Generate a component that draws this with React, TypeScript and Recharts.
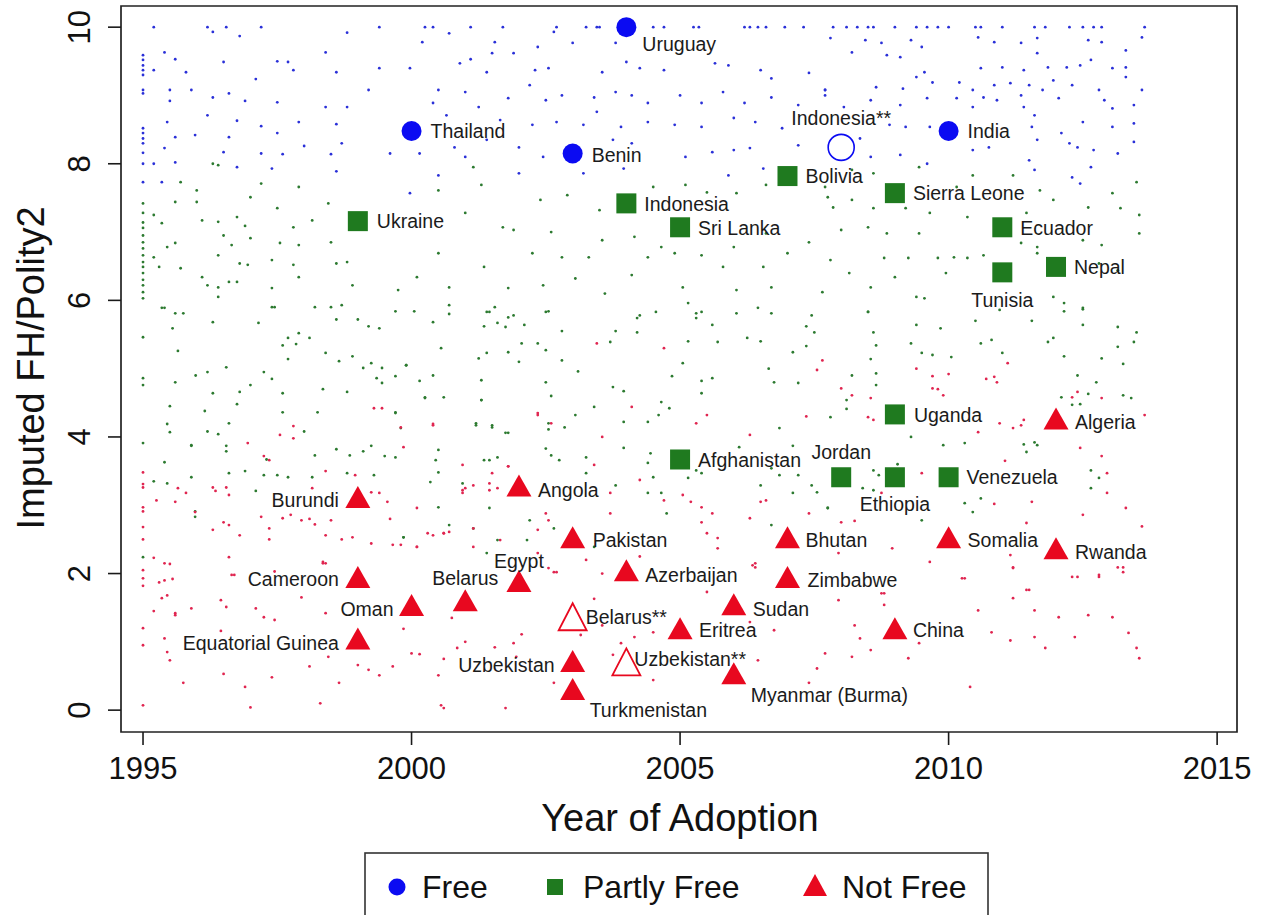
import { ScatterChart, Scatter, XAxis, YAxis, ReferenceArea } from "recharts";

const FONT = '"Liberation Sans", Arial, Helvetica, sans-serif';
const BLUE = "#0b0bf2";
const GREEN = "#1f7a1f";
const RED = "#e8081f";
const DOT_BLUE = "#2a30d8";
const DOT_GREEN = "#2c7a30";
const DOT_RED = "#e02550";

const YEAR_TICKS = [1995, 2000, 2005, 2010, 2015];
const SCORE_TICKS = [0, 2, 4, 6, 8, 10];

type Country = { name: string; year: number; score: number; hollow?: boolean };

const FREE: Country[] = [
  { name: "Uruguay", year: 2004, score: 10.0 },
  { name: "Thailand", year: 2000, score: 8.48 },
  { name: "Benin", year: 2003, score: 8.15 },
  { name: "Indonesia**", year: 2008, score: 8.24, hollow: true },
  { name: "India", year: 2010, score: 8.48 },
];

const PARTLY_FREE: Country[] = [
  { name: "Ukraine", year: 1999, score: 7.16 },
  { name: "Indonesia", year: 2004, score: 7.42 },
  { name: "Sri Lanka", year: 2005, score: 7.07 },
  { name: "Bolivia", year: 2007, score: 7.82 },
  { name: "Sierra Leone", year: 2009, score: 7.57 },
  { name: "Ecuador", year: 2011, score: 7.07 },
  { name: "Tunisia", year: 2011, score: 6.41 },
  { name: "Nepal", year: 2012, score: 6.49 },
  { name: "Uganda", year: 2009, score: 4.33 },
  { name: "Afghanistan", year: 2005, score: 3.67 },
  { name: "Jordan", year: 2008, score: 3.41 },
  { name: "Ethiopia", year: 2009, score: 3.41 },
  { name: "Venezuela", year: 2010, score: 3.41 },
];

const NOT_FREE: Country[] = [
  { name: "Algeria", year: 2012, score: 4.27 },
  { name: "Burundi", year: 1999, score: 3.12 },
  { name: "Angola", year: 2002, score: 3.29 },
  { name: "Pakistan", year: 2003, score: 2.53 },
  { name: "Bhutan", year: 2007, score: 2.53 },
  { name: "Somalia", year: 2010, score: 2.53 },
  { name: "Rwanda", year: 2012, score: 2.37 },
  { name: "Cameroon", year: 1999, score: 1.95 },
  { name: "Egypt", year: 2002, score: 1.89 },
  { name: "Azerbaijan", year: 2004, score: 2.05 },
  { name: "Zimbabwe", year: 2007, score: 1.95 },
  { name: "Oman", year: 2000, score: 1.54 },
  { name: "Belarus", year: 2001, score: 1.61 },
  { name: "Sudan", year: 2006, score: 1.55 },
  { name: "Belarus**", year: 2003, score: 1.36, hollow: true },
  { name: "Eritrea", year: 2005, score: 1.2 },
  { name: "China", year: 2009, score: 1.2 },
  { name: "Equatorial Guinea", year: 1999, score: 1.05 },
  { name: "Uzbekistan", year: 2003, score: 0.72 },
  { name: "Uzbekistan**", year: 2004, score: 0.7, hollow: true },
  { name: "Myanmar (Burma)", year: 2006, score: 0.54 },
  { name: "Turkmenistan", year: 2003, score: 0.31 },
];

// all country-years in the background, [year, score]
const BG_FREE: number[][] = [
  [1995, 9.59], [1995, 9.52], [1995, 9.44], [1995, 9.37], [1995, 9.3], [1995, 9.08], [1995, 9.03],
  [1995, 8.52], [1995, 8.45], [1995, 8.37], [1995, 8.3], [1995, 8.16], [1995, 8.0], [1995, 7.73],
  [1995.2, 10], [1996.2, 10], [1996.55, 10], [1997.2, 10], [1999.4, 10],
  [1996.3, 9.93], [1996.8, 9.87], [1995.4, 9.63], [1995.6, 9.53], [1996.5, 9.49], [1997.5, 9.5],
  [1997.7, 9.49], [1998.4, 9.63], [1998.8, 9.92], [1999.4, 9.4], [1995.2, 9.37], [1995.8, 9.34],
  [1997.8, 9.37], [1998.6, 9.34], [1997.1, 9.24], [1995.5, 9.08], [1995.9, 9.08], [1996.6, 9.03],
  [1999.2, 9.08], [1996.3, 8.97], [1995.5, 8.92], [1996.9, 8.92], [1997.5, 8.9], [1998.4, 8.83],
  [1998.8, 8.83], [1996.2, 8.71], [1996.75, 8.63], [1995.45, 8.61], [1997.2, 8.55], [1997.9, 8.61],
  [1998.6, 8.58], [1995.6, 8.39], [1995.97, 8.42], [1996.6, 8.39], [1997.5, 8.45], [1998.0, 8.26],
  [1998.7, 8.3], [1995.4, 8.23], [1996.5, 8.17], [1997.2, 8.15], [1997.6, 8.14], [1998.5, 8.14],
  [1999.6, 8.15], [1995.2, 8.0], [1995.6, 8.02], [1996.75, 7.95], [1997.4, 7.93], [1998.6, 7.89],
  [1995.35, 7.73],
  [2000.25, 10], [2000.4, 10], [2001.1, 10], [2001.7, 10], [2002.7, 10], [2003.25, 10], [2003.45, 10],
  [2003.5, 10], [2004.5, 10], [2004.7, 10], [2005.25, 10], [2005.35, 10], [2006.2, 10], [2006.3, 10],
  [2006.45, 10], [2006.6, 10], [2006.95, 10], [2007.3, 10], [2007.85, 10],
  [2000.7, 9.91], [2001.55, 9.78], [2000.2, 9.78], [2002.65, 9.93], [2003.0, 9.77], [2003.8, 9.77],
  [2002.35, 9.71], [2000.9, 9.47], [2001.1, 9.53], [2001.5, 9.62], [2001.9, 9.62], [2002.3, 9.37],
  [2002.55, 9.4], [2003.55, 9.34], [2004.0, 9.49], [2004.25, 9.4], [2004.7, 9.37], [2005.65, 9.47],
  [2005.9, 9.44], [2006.5, 9.37], [2006.7, 9.25], [2007.4, 9.33], [2007.7, 9.0], [1999.97, 9.4],
  [2000.5, 9.08], [2001.0, 9.05], [2001.4, 9.34], [2001.8, 8.96], [2002.2, 9.15], [2002.5, 8.93],
  [2002.8, 9.0], [2003.4, 8.97], [2003.8, 9.05], [2004.1, 9.0], [2004.4, 8.89], [2005.0, 9.0],
  [2005.4, 8.89], [2005.8, 9.05], [2006.2, 8.89], [2006.7, 8.97], [2007.2, 8.86], [2007.7, 9.08],
  [2000.4, 8.89], [2001.25, 8.83], [2000.65, 8.71], [2001.65, 8.64], [2002.25, 8.57], [2002.7, 8.61],
  [2003.2, 8.57], [2003.45, 8.76], [2003.9, 8.54], [2004.4, 8.61], [2004.9, 8.57], [2005.4, 8.54],
  [2006.0, 8.67], [2006.4, 8.61], [2006.9, 8.52], [2001.4, 8.35], [2002.0, 8.24], [2002.45, 8.1],
  [2003.75, 8.35], [2004.1, 8.3], [2005.1, 8.1], [2005.6, 8.17], [2006.0, 8.2], [2006.3, 8.23],
  [2007.2, 8.27], [2000.8, 8.24], [2000.15, 8.15], [2001.0, 8.1], [2000.5, 7.83], [2002.0, 7.86],
  [2003.2, 7.86], [2003.95, 7.93], [2005.9, 7.83], [2006.55, 7.93], [1999.97, 7.57],
  [2008.1, 10], [2008.3, 10], [2008.5, 10], [2008.6, 10], [2009.0, 10], [2009.4, 10], [2009.6, 10],
  [2009.8, 10], [2010.0, 10], [2010.5, 10], [2010.6, 10], [2011.0, 10], [2011.6, 10], [2011.8, 10],
  [2012.25, 10], [2012.5, 10], [2012.7, 10], [2012.85, 10], [2013.65, 10],
  [2007.8, 9.84], [2008.45, 9.81], [2008.75, 9.77], [2009.3, 9.81], [2009.5, 9.71], [2010.55, 9.85],
  [2010.85, 9.78], [2011.35, 9.77], [2011.65, 9.84], [2012.6, 9.81], [2012.85, 9.78], [2013.6, 9.85],
  [2008.2, 9.63], [2008.85, 9.59], [2009.1, 9.56], [2011.65, 9.62], [2013.3, 9.66], [2012.65, 9.52],
  [2010.6, 9.4], [2011.0, 9.41], [2011.4, 9.37], [2011.85, 9.41], [2012.2, 9.41], [2012.45, 9.44],
  [2013.05, 9.4], [2013.3, 9.41], [2009.4, 9.27], [2009.55, 9.34], [2010.2, 9.19], [2010.85, 9.15],
  [2011.15, 9.18], [2011.5, 9.15], [2011.95, 9.22], [2012.3, 9.15], [2013.3, 9.27], [2007.7, 9.08],
  [2008.65, 9.12], [2009.15, 9.1], [2009.7, 9.19], [2010.45, 9.08], [2011.35, 9.0], [2011.75, 9.08],
  [2012.8, 9.08], [2013.6, 9.08], [2008.55, 8.93], [2009.6, 8.96], [2010.15, 8.96], [2010.65, 8.97],
  [2010.9, 8.93], [2012.05, 8.96], [2012.9, 8.93], [2013.05, 8.81], [2013.45, 8.86], [2008.05, 8.83],
  [2009.1, 8.86], [2010.45, 8.83], [2011.4, 8.83], [2011.6, 8.71], [2008.9, 8.57], [2009.2, 8.54],
  [2009.65, 8.54], [2011.55, 8.54], [2012.1, 8.45], [2012.5, 8.61], [2013.05, 8.54], [2013.45, 8.59],
  [2008.35, 8.37], [2010.45, 8.2], [2010.75, 8.24], [2011.65, 8.35], [2012.25, 8.3], [2012.4, 8.24],
  [2012.7, 8.2], [2013.45, 8.32], [2008.55, 8.1], [2009.1, 8.13], [2011.5, 8.05], [2013.15, 8.15],
  [2009.6, 8.0], [2011.6, 7.91], [2012.65, 7.95], [2012.3, 7.8], [2012.45, 7.71],
];

const BG_PARTLY_FREE: number[][] = [
  [1995, 7.42], [1995, 7.28], [1995, 7.14], [1995, 7.06], [1995, 6.95], [1995, 6.85], [1995, 6.76],
  [1995, 6.66], [1995, 6.56], [1995, 6.49], [1995, 6.4], [1995, 6.3], [1995, 6.22], [1995, 6.12],
  [1995, 6.03], [1995, 5.46], [1995, 4.86], [1995, 4.76], [1995, 3.91], [1995, 2.24],
  [1996.3, 8.0], [1996.4, 7.98], [1995.7, 7.73], [1997.2, 7.71], [1996.0, 7.61], [1997.9, 7.66],
  [1995.6, 7.44], [1996.0, 7.44], [1997.0, 7.51], [1997.5, 7.35], [1998.45, 7.42], [1995.2, 7.25],
  [1995.35, 7.13], [1996.1, 7.17], [1996.4, 7.15], [1996.75, 7.22], [1996.9, 7.09], [1997.8, 7.07],
  [1998.15, 7.17], [1995.45, 6.78], [1995.6, 6.84], [1996.5, 6.95], [1996.65, 6.81], [1997.0, 6.91],
  [1997.55, 6.84], [1997.9, 6.81], [1998.5, 6.85], [1995.2, 6.63], [1996.4, 6.66], [1995.3, 6.49],
  [1996.8, 6.54], [1996.95, 6.52], [1997.4, 6.59], [1997.8, 6.52], [1998.6, 6.54], [1998.8, 6.56],
  [1995.7, 6.47], [1996.1, 6.34], [1996.4, 6.19], [1996.6, 6.27], [1996.75, 6.27], [1996.2, 6.22],
  [1997.9, 6.34], [1998.9, 6.22], [1996.4, 6.05], [1997.4, 6.18], [1999.75, 6.15], [1995.4, 5.89],
  [1995.6, 5.81], [1997.4, 5.9], [1998.2, 5.9], [1998.5, 5.9], [1998.7, 5.93],
  [2001.15, 7.95], [2000.5, 7.61], [2001.3, 7.69], [2002.4, 7.47], [2002.9, 7.54], [2003.5, 7.32],
  [2004.5, 7.66], [2005.1, 7.69], [2005.5, 7.58], [2006.05, 7.57], [2006.6, 7.69], [2007.75, 7.51],
  [2001.0, 7.28], [2001.7, 7.07], [2001.9, 7.03], [2002.6, 7.0], [2003.55, 6.88], [2004.15, 6.93],
  [2004.65, 6.78], [2006.0, 6.78], [2006.6, 6.98], [2007.4, 6.85], [2000.5, 6.69], [2001.35, 6.49],
  [2002.25, 6.69], [2002.8, 6.63], [2003.3, 6.63], [2004.1, 6.37], [2004.4, 6.63], [2004.9, 6.69],
  [2005.4, 6.66], [2005.8, 6.49], [2006.55, 6.49], [2007.0, 6.69], [2000.1, 6.34], [2000.7, 6.19],
  [2001.8, 6.18], [2002.45, 6.22], [2003.05, 6.32], [2003.6, 6.1], [2005.05, 6.19], [2006.05, 6.15],
  [2006.7, 6.19], [2007.65, 6.12], [2000.7, 5.93], [2001.45, 5.83], [2002.5, 5.83], [2004.25, 5.78],
  [2005.3, 5.81], [2006.7, 5.81],
  [2008.2, 7.91], [2008.6, 7.86], [2009.45, 7.95], [2010.45, 7.83], [2011.2, 7.83], [2013.5, 7.73],
  [2007.7, 7.66], [2008.2, 7.47], [2010.15, 7.66], [2011.7, 7.61], [2011.95, 7.47], [2013.05, 7.57],
  [2007.85, 7.36], [2008.6, 7.35], [2009.2, 7.35], [2009.65, 7.28], [2010.35, 7.22], [2011.45, 7.28],
  [2012.6, 7.36], [2013.2, 7.35], [2013.55, 7.25], [2008.0, 7.03], [2008.5, 7.07], [2008.85, 6.98],
  [2009.45, 6.98], [2011.35, 6.84], [2011.65, 6.78], [2012.5, 6.88], [2012.85, 6.81], [2013.55, 6.98],
  [2007.8, 6.59], [2008.8, 6.62], [2009.25, 6.62], [2009.8, 6.62], [2010.1, 6.63], [2010.35, 6.62],
  [2010.65, 6.66], [2011.65, 6.69], [2012.8, 6.54], [2008.15, 6.4], [2009.0, 6.34], [2009.95, 6.4],
  [2013.15, 6.44], [2009.4, 6.05], [2009.55, 6.03], [2008.55, 6.19], [2011.95, 6.05], [2012.15, 5.96],
  [2012.5, 5.89], [2008.5, 5.83],
  [1995.35, 5.89], [1995.75, 5.81], [1995.55, 5.59], [1996.3, 5.68], [1997.15, 5.67], [1997.45, 5.9],
  [1998.6, 5.72], [1999.0, 5.72], [1999.2, 5.62], [1999.4, 5.59], [1999.7, 5.84], [1995.65, 5.26],
  [1997.7, 5.45], [1997.85, 5.36], [1997.6, 5.34], [1997.9, 5.52], [1998.1, 5.45], [1997.7, 5.14],
  [1998.4, 5.23], [1998.65, 5.11], [1998.9, 5.18], [1999.1, 5.01], [1999.25, 5.08], [1999.45, 5.01],
  [1999.9, 5.05], [1996.55, 5.02], [1995.98, 4.9], [1996.2, 4.95], [1997.25, 4.95], [1995.6, 4.8],
  [1996.8, 4.66], [1997.0, 4.76], [1997.4, 4.85], [1998.35, 4.7], [1998.8, 4.66], [1999.35, 4.86],
  [1999.45, 4.79], [1999.7, 4.89], [1996.3, 4.64], [1997.6, 4.64], [1995.5, 4.45], [1996.15, 4.38],
  [1996.75, 4.48], [1997.6, 4.36], [1998.25, 4.36], [1999.7, 4.36], [1995.45, 4.19], [1996.6, 4.2],
  [1995.5, 4.07], [1996.2, 4.08], [1996.4, 4.04], [1998.0, 4.08], [1995.9, 3.87], [1996.55, 3.87],
  [1996.55, 3.79], [1997.3, 3.67], [1998.2, 3.73], [1998.6, 3.82], [1998.85, 3.73], [1999.1, 3.79],
  [1999.25, 3.87], [1999.5, 3.72], [1999.7, 3.7], [1995.4, 3.63], [1996.6, 3.47], [1996.9, 3.5],
  [1997.25, 3.44], [1997.5, 3.44], [1997.7, 3.41], [1998.15, 3.41], [1998.8, 3.47], [1999.3, 3.44],
  [1995.2, 3.35], [1995.45, 3.32], [1995.9, 3.41], [1997.1, 3.21], [1995.97, 2.91], [1995.97, 2.83],
  [1999.85, 2.53], [1995.9, 3.88], [1999.8, 4.13], [2000.5, 3.81], [2000.45, 3.66], [2001.2, 4.17],
  [2001.3, 4.54], [2001.5, 4.17], [2001.8, 4.06], [2001.45, 3.66], [2001.6, 3.7], [2000.6, 4.58],
  [2000.25, 4.58], [1999.7, 4.35],
  [2000.05, 5.84], [2000.7, 5.8], [2000.4, 5.68], [2001.4, 5.83], [2001.55, 5.9], [2001.6, 5.67],
  [2001.8, 5.75], [2001.9, 5.78], [2002.1, 5.64], [2001.75, 5.61], [2001.35, 5.62], [2002.55, 5.84],
  [2002.8, 5.55], [2003.8, 5.55], [2004.2, 5.53], [2004.2, 5.74], [2004.55, 5.83], [2005.15, 5.96],
  [2005.3, 5.74], [2005.4, 5.83], [2006.05, 5.81], [2005.6, 5.64], [2006.45, 5.89], [2007.45, 5.78],
  [2007.5, 5.53], [2000.55, 5.3], [2001.25, 5.15], [2001.4, 5.23], [2001.8, 5.24], [2002.0, 5.1],
  [2002.05, 5.37], [2002.35, 5.37], [2002.5, 5.27], [2002.8, 5.12], [2003.7, 5.39], [2005.15, 5.4],
  [2005.7, 5.39], [2006.5, 5.4], [2006.25, 5.45], [2007.1, 5.24], [2007.35, 5.33], [1999.9, 5.05],
  [2000.15, 4.82], [2000.4, 4.9], [2000.25, 4.57], [2001.3, 4.83], [2001.3, 4.54], [2002.5, 4.8],
  [2002.6, 4.6], [2003.1, 4.96], [2003.4, 4.44], [2003.75, 4.73], [2003.95, 4.67], [2004.85, 4.89],
  [2005.05, 5.08], [2005.4, 4.82], [2005.6, 4.86], [2005.4, 4.64], [2004.65, 4.51], [2004.8, 4.42],
  [2004.6, 4.32], [2004.4, 4.22], [2003.95, 4.22], [2003.05, 4.32], [2001.75, 4.06], [2001.2, 4.2],
  [2001.5, 4.14], [2002.55, 4.2], [2002.85, 4.14], [2002.55, 4.11], [2006.65, 5.0], [2006.75, 4.8],
  [2007.2, 4.79], [2006.85, 4.13], [2007.1, 3.87], [2007.35, 5.62], [2000.5, 3.48], [2000.35, 3.34],
  [2001.35, 3.66], [2000.95, 3.32], [2001.45, 2.96], [2000.5, 2.97], [2002.5, 3.83], [2002.6, 3.73],
  [2002.75, 3.66], [2003.25, 3.7], [2003.25, 3.47], [2003.95, 3.84], [2004.45, 3.76], [2004.4, 3.62],
  [2004.5, 3.41], [2003.8, 3.29], [2004.4, 3.18], [2004.65, 3.18], [2004.75, 2.88], [2005.3, 3.51],
  [2005.4, 3.47], [2005.15, 3.4], [2006.1, 3.85], [2006.5, 3.29], [2006.7, 3.54], [2006.85, 3.44],
  [2007.1, 3.18], [2007.2, 3.44], [2007.45, 3.29], [2007.55, 3.19], [2007.75, 2.96], [2006.7, 2.71],
  [2003.4, 2.39], [2002.65, 2.66], [2002.2, 2.78], [2002.15, 2.49], [2001.6, 2.49], [2001.4, 2.3],
  [2001.15, 2.66], [2000.7, 2.71], [1999.85, 2.53],
  [2008.5, 5.83], [2008.6, 5.53], [2008.65, 5.34], [2008.55, 5.14], [2009.4, 5.64], [2009.85, 5.59],
  [2009.3, 5.37], [2009.5, 5.23], [2009.7, 5.2], [2010.05, 5.17], [2010.6, 5.37], [2010.8, 5.42],
  [2011.0, 5.23], [2010.5, 5.7], [2010.95, 5.86], [2011.55, 5.7], [2012.15, 5.84], [2012.5, 5.87],
  [2012.5, 5.64], [2013.15, 5.61], [2013.5, 5.53], [2013.45, 5.39], [2013.15, 5.32], [2011.85, 5.39],
  [2011.95, 5.45], [2012.15, 5.18], [2012.85, 5.15], [2013.25, 5.07], [2008.2, 4.9], [2008.65, 4.93],
  [2008.65, 4.76], [2008.1, 4.54], [2008.1, 4.41], [2007.8, 4.29], [2012.4, 4.9], [2012.1, 4.58],
  [2012.3, 4.47], [2012.45, 4.48], [2012.6, 4.63], [2012.75, 4.8], [2013.25, 4.61], [2013.4, 4.57],
  [2011.4, 3.89], [2011.6, 3.92], [2011.65, 3.88], [2011.45, 3.78], [2010.3, 3.91], [2009.3, 4.0],
  [2009.9, 3.88], [2008.6, 3.51], [2008.7, 3.44], [2009.05, 3.6], [2008.4, 3.25], [2008.6, 3.22],
  [2007.75, 2.96], [2009.5, 2.78], [2010.3, 3.03], [2010.6, 3.1], [2010.45, 2.9], [2012.65, 3.51],
  [2012.8, 3.4], [2012.65, 3.25],
];

const BG_NOT_FREE: number[][] = [
  [1995, 3.48], [1995, 3.31], [1995, 3.26], [1995, 2.97], [1995, 2.91], [1995, 2.68], [1995, 2.5],
  [1995, 2.05], [1995, 1.93], [1995, 1.82], [1995, 1.2], [1995, 0.95], [1995, 0.07],
  [1995.25, 3.07], [1995.6, 3.05], [1995.65, 3.25], [1995.8, 3.18], [1996.3, 3.26], [1996.35, 3.21],
  [1996.55, 3.26], [1996.6, 3.15], [1996.95, 3.91], [1997.25, 3.72], [1997.35, 3.66], [1997.55, 4.03],
  [1997.8, 4.16], [1997.8, 3.98], [1998.15, 3.25], [1998.4, 3.5], [1998.95, 3.44], [1999.25, 3.19],
  [1999.4, 3.18], [1999.55, 3.05], [1999.3, 4.42], [1999.45, 4.42], [1999.8, 4.14], [1999.85, 3.85],
  [1996.5, 2.75], [1996.6, 2.71], [1996.3, 2.64], [1996.8, 2.56], [1997.2, 2.83], [1997.35, 2.66],
  [1997.35, 2.5], [1997.6, 2.81], [1997.75, 2.86], [1997.95, 2.78], [1998.1, 2.8], [1998.2, 2.72],
  [1998.5, 2.78], [1998.4, 2.56], [1998.7, 2.5], [1998.9, 2.53], [1999.25, 2.44], [1999.6, 2.8],
  [1999.65, 2.42], [1999.8, 2.42], [2000.1, 2.96], [2000.1, 2.39], [1995.2, 2.23], [1995.4, 2.15],
  [1995.5, 2.14], [1995.3, 1.87], [1995.4, 1.9], [1995.55, 1.92], [1996.6, 2.24], [1996.65, 1.98],
  [1997.45, 2.03], [1998.35, 2.17], [1998.4, 2.15], [1995.97, 2.9], [1995.35, 1.64], [1995.45, 1.68],
  [1995.2, 1.45], [1995.6, 1.39], [1995.9, 1.49], [1995.4, 1.05], [1995.45, 0.85], [1995.5, 0.73],
  [1995.75, 0.4], [1996.45, 1.61], [1996.55, 1.51], [1996.45, 1.16], [1996.5, 0.53], [1996.9, 0.34],
  [1997.0, 0.04], [1997.1, 1.49], [1997.25, 1.36], [1997.45, 1.32], [1997.4, 0.48], [1997.95, 1.65],
  [1998.1, 0.64], [1998.3, 0.1], [1998.35, 2.15], [1998.45, 0.78], [1998.65, 0.4], [1999.0, 0.66],
  [1999.2, 0.59], [1999.4, 0.51], [1999.65, 0.64], [1999.85, 1.19], [2000.0, 0.83], [2000.15, 0.82],
  [2000.5, 0.51], [2000.55, 0.07], [2000.6, 0.03], [2000.6, 0.75], [2000.85, 0.91], [2001.0, 1.0],
  [2001.55, 0.92], [2001.75, 0.03], [2001.9, 0.98], [2001.95, 0.78], [2002.05, 1.11], [2000.75, 1.35],
  [2001.15, 2.66], [2001.65, 2.49], [2000.3, 2.59], [2000.4, 2.56], [2000.6, 2.59], [2000.7, 2.61],
  [2000.1, 2.39], [2000.95, 3.22], [2001.0, 3.25], [2001.45, 3.32], [2001.45, 3.22], [2001.6, 3.25],
  [2001.8, 3.57], [2000.4, 4.19], [2002.35, 4.35], [1995.6, 1.42], [1996.7, 1.98], [1998.4, 1.42],
  [2003.45, 5.37], [2004.7, 5.3], [2007.65, 5.12], [2007.55, 4.98], [2007.35, 4.3], [2005.5, 4.32],
  [2005.3, 4.2], [2004.1, 4.44], [2003.55, 4.0], [2006.3, 4.03], [2002.35, 4.32], [2002.6, 4.2],
  [2000.4, 4.17], [2000.95, 3.59], [2001.5, 3.47], [2001.8, 3.57], [2001.15, 3.29], [2000.95, 3.18],
  [2003.4, 3.59], [2003.7, 3.18], [2003.7, 2.88], [2004.25, 3.37], [2004.7, 3.07], [2005.05, 3.15],
  [2005.2, 3.05], [2005.4, 2.97], [2005.4, 2.75], [2005.6, 2.88], [2005.5, 2.59], [2005.7, 2.52],
  [2005.7, 2.37], [2006.4, 2.09], [2006.4, 2.15], [2006.3, 2.81], [2006.5, 3.05], [2006.6, 3.07],
  [2007.4, 2.88], [2002.5, 2.88], [2002.55, 2.78], [2002.35, 2.64], [2002.55, 2.08], [2002.65, 2.02],
  [2002.35, 2.3], [2003.55, 2.0], [2003.25, 2.2], [2004.25, 2.25], [2007.95, 2.3], [2000.6, 2.59],
  [2001.15, 2.39],
  [2009.4, 5.0], [2009.7, 4.89], [2010.0, 4.92], [2009.7, 4.71], [2009.8, 4.7], [2009.9, 4.61],
  [2010.7, 4.85], [2010.85, 4.88], [2010.9, 4.8], [2011.1, 5.08], [2008.2, 4.61], [2008.55, 4.57],
  [2008.0, 4.71], [2008.5, 4.29], [2008.6, 4.25], [2011.2, 4.13], [2011.35, 4.17], [2011.4, 4.25],
  [2010.95, 4.2], [2010.55, 4.07], [2012.3, 4.58], [2012.4, 4.66], [2012.85, 4.57], [2013.65, 4.32],
  [2012.45, 3.84], [2012.85, 3.72], [2012.95, 3.47], [2012.95, 3.18], [2013.3, 2.96], [2013.6, 2.69],
  [2013.25, 2.09], [2013.25, 2.02], [2012.8, 1.95], [2012.4, 1.95], [2012.5, 2.86], [2011.55, 3.05],
  [2011.45, 2.74], [2011.15, 2.27], [2011.2, 2.08], [2011.5, 1.76], [2010.3, 1.93], [2009.65, 2.17],
  [2008.95, 2.37], [2008.8, 1.71], [2008.25, 2.77], [2008.0, 2.75], [2009.5, 3.47], [2008.75, 3.18],
  [2010.85, 3.02], [2011.05, 3.65],
  [2002.7, 2.02], [2002.65, 0.4], [2003.55, 1.24], [2003.9, 0.98], [2003.4, 1.63], [2004.15, 1.07],
  [2004.5, 1.14], [2004.5, 0.44], [2003.75, 0.81], [2003.15, 1.1], [2006.45, 0.73], [2006.3, 1.29],
  [2005.5, 1.73], [2006.35, 2.12], [2006.75, 1.17], [2007.55, 0.61], [2007.7, 0.83], [2007.95, 1.61],
  [2008.2, 0.78], [2008.25, 1.24], [2008.35, 1.05], [2008.55, 0.88], [2008.75, 1.71], [2008.8, 1.54],
  [2009.25, 0.76], [2009.45, 0.98], [2010.25, 1.93], [2010.4, 0.34], [2010.55, 1.46], [2010.8, 1.14],
  [2011.15, 1.02], [2011.2, 2.09], [2011.2, 1.64], [2011.45, 1.76], [2011.6, 1.46], [2011.6, 1.07],
  [2011.8, 0.91], [2012.05, 1.36], [2012.3, 1.95], [2012.35, 1.07], [2012.6, 1.39], [2012.8, 1.98],
  [2013.05, 1.36], [2013.15, 2.09], [2013.35, 1.13], [2013.5, 0.91], [2013.55, 0.76], [2007.4, 0.4],
];

// where each country's name sits relative to its marker: [dx, dy, anchor]
const LABEL_POS: Record<string, [number, number, "start" | "middle" | "end"]> = {
  Uruguay: [16, 24, "start"],
  Thailand: [19, 7, "start"],
  Benin: [19, 8, "start"],
  "Indonesia**": [0, -22, "middle"],
  India: [19, 7, "start"],
  Ukraine: [19, 7, "start"],
  Indonesia: [18, 8, "start"],
  "Sri Lanka": [18, 8, "start"],
  Bolivia: [18, 7, "start"],
  "Sierra Leone": [18, 7, "start"],
  Ecuador: [18, 8, "start"],
  Nepal: [18, 7, "start"],
  Tunisia: [0, 35, "middle"],
  Uganda: [19, 8, "start"],
  Venezuela: [18, 7, "start"],
  Jordan: [0, -18, "middle"],
  Ethiopia: [0, 34, "middle"],
  Afghanistan: [18, 8, "start"],
  Algeria: [19, 10, "start"],
  Burundi: [-19, 10, "end"],
  Angola: [19, 12, "start"],
  Pakistan: [20, 10, "start"],
  Bhutan: [18, 10, "start"],
  Somalia: [19, 10, "start"],
  Rwanda: [19, 11, "start"],
  Cameroon: [-19, 9, "end"],
  Egypt: [0, -13, "middle"],
  Azerbaijan: [19, 12, "start"],
  Zimbabwe: [20, 10, "start"],
  Oman: [-18, 11, "end"],
  Belarus: [0, -15, "middle"],
  Sudan: [19, 12, "start"],
  "Belarus**": [13, 7, "start"],
  Eritrea: [19, 9, "start"],
  China: [18, 9, "start"],
  "Equatorial Guinea": [-19, 12, "end"],
  Uzbekistan: [-18, 11, "end"],
  "Uzbekistan**": [8, 4, "start"],
  "Myanmar (Burma)": [17, 29, "start"],
  Turkmenistan: [17, 28, "start"],
};

const toPoints = (rows: number[][]) => rows.map(([year, score]) => ({ year, score }));

const dotShape = (color: string) => (p: any) => (
  <circle cx={p.cx} cy={p.cy} r={1.4} fill={color} />
);

function labelFor(cx: number, cy: number, name: string) {
  const [dx, dy, anchor] = LABEL_POS[name] ?? [18, 8, "start"];
  return (
    <text
      x={cx + dx}
      y={cy + dy}
      textAnchor={anchor}
      fontSize={19.5}
      fontFamily={FONT}
      fill="#1b1b1b"
    >
      {name}
    </text>
  );
}

const circleShape = (p: any) => (
  <g>
    {p.payload.hollow ? (
      <circle cx={p.cx} cy={p.cy} r={13} fill="none" stroke={BLUE} strokeWidth={1.6} />
    ) : (
      <circle cx={p.cx} cy={p.cy} r={10} fill={BLUE} />
    )}
    {labelFor(p.cx, p.cy, p.payload.name)}
  </g>
);

const squareShape = (p: any) => (
  <g>
    <rect x={p.cx - 10} y={p.cy - 10} width={20} height={20} fill={GREEN} />
    {labelFor(p.cx, p.cy, p.payload.name)}
  </g>
);

const triangleShape = (p: any) => {
  const { cx, cy } = p;
  const pts = p.payload.hollow
    ? `${cx},${cy - 14} ${cx - 14},${cy + 13} ${cx + 14},${cy + 13}`
    : `${cx},${cy - 11} ${cx - 12.5},${cy + 11} ${cx + 12.5},${cy + 11}`;
  return (
    <g>
      {p.payload.hollow ? (
        <polygon points={pts} fill="none" stroke={RED} strokeWidth={1.8} />
      ) : (
        <polygon points={pts} fill={RED} />
      )}
      {labelFor(cx, cy, p.payload.name)}
    </g>
  );
};

const XTick = (p: any) => (
  <text x={p.x} y={779} textAnchor="middle" fontSize={31} fontFamily={FONT} fill="#111">
    {p.payload.value}
  </text>
);

const YTick = (p: any) => (
  <text
    x={90}
    y={p.y}
    transform={`rotate(-90, 90, ${p.y})`}
    textAnchor="middle"
    fontSize={31}
    fontFamily={FONT}
    fill="#111"
  >
    {p.payload.value}
  </text>
);

export default function App() {
  return (
    <div
      style={{
        position: "absolute",
        left: 0,
        top: 0,
        width: 1265,
        height: 915,
        overflow: "hidden",
        background: "#fff",
      }}
    >
      <ScatterChart
        width={1265}
        height={915}
        margin={{ top: 6, right: 28, bottom: 123, left: 21 }}
      >
        <XAxis
          type="number"
          dataKey="year"
          domain={[1994.59, 2015.37]}
          ticks={YEAR_TICKS}
          interval={0}
          allowDataOverflow
          axisLine={false}
          tickSize={13}
          tickLine={{ stroke: "#1a1a1a", strokeWidth: 1.6 }}
          tick={<XTick />}
          height={60}
        />
        <YAxis
          type="number"
          dataKey="score"
          domain={[-0.32, 10.31]}
          ticks={SCORE_TICKS}
          interval={0}
          allowDataOverflow
          axisLine={false}
          tickSize={13}
          tickLine={{ stroke: "#1a1a1a", strokeWidth: 1.6 }}
          tick={<YTick />}
          width={100}
        />
        <ReferenceArea
          x1={1994.59}
          x2={2015.37}
          y1={-0.32}
          y2={10.31}
          fill="none"
          stroke="#222"
          strokeWidth={1.7}
          ifOverflow="visible"
        />
        <Scatter data={toPoints(BG_FREE)} shape={dotShape(DOT_BLUE)} isAnimationActive={false} />
        <Scatter data={toPoints(BG_PARTLY_FREE)} shape={dotShape(DOT_GREEN)} isAnimationActive={false} />
        <Scatter data={toPoints(BG_NOT_FREE)} shape={dotShape(DOT_RED)} isAnimationActive={false} />
        <Scatter name="Free" data={FREE} shape={circleShape} isAnimationActive={false} />
        <Scatter name="Partly Free" data={PARTLY_FREE} shape={squareShape} isAnimationActive={false} />
        <Scatter name="Not Free" data={NOT_FREE} shape={triangleShape} isAnimationActive={false} />
      </ScatterChart>

      {/* axis titles and legend */}
      <svg
        width={1265}
        height={915}
        style={{ position: "absolute", left: 0, top: 0, pointerEvents: "none" }}
      >
        <text x={680} y={831} textAnchor="middle" fontSize={38} fontFamily={FONT} fill="#111">
          Year of Adoption
        </text>
        <text
          x={44}
          y={368}
          transform="rotate(-90, 44, 368)"
          textAnchor="middle"
          fontSize={38}
          fontFamily={FONT}
          fill="#111"
        >
          Imputed FH/Polity2
        </text>
        <rect x={365} y={853} width={623} height={80} fill="#fff" stroke="#333" strokeWidth={1.6} />
        <circle cx={397} cy={887} r={8.5} fill={BLUE} />
        <text x={422} y={898} fontSize={32} fontFamily={FONT} fill="#111">Free</text>
        <rect x={547} y={879} width={16} height={16} fill={GREEN} />
        <text x={583} y={898} fontSize={32} fontFamily={FONT} fill="#111">Partly Free</text>
        <polygon points="815,874 803,896 827,896" fill={RED} />
        <text x={842} y={898} fontSize={32} fontFamily={FONT} fill="#111">Not Free</text>
      </svg>
    </div>
  );
}
